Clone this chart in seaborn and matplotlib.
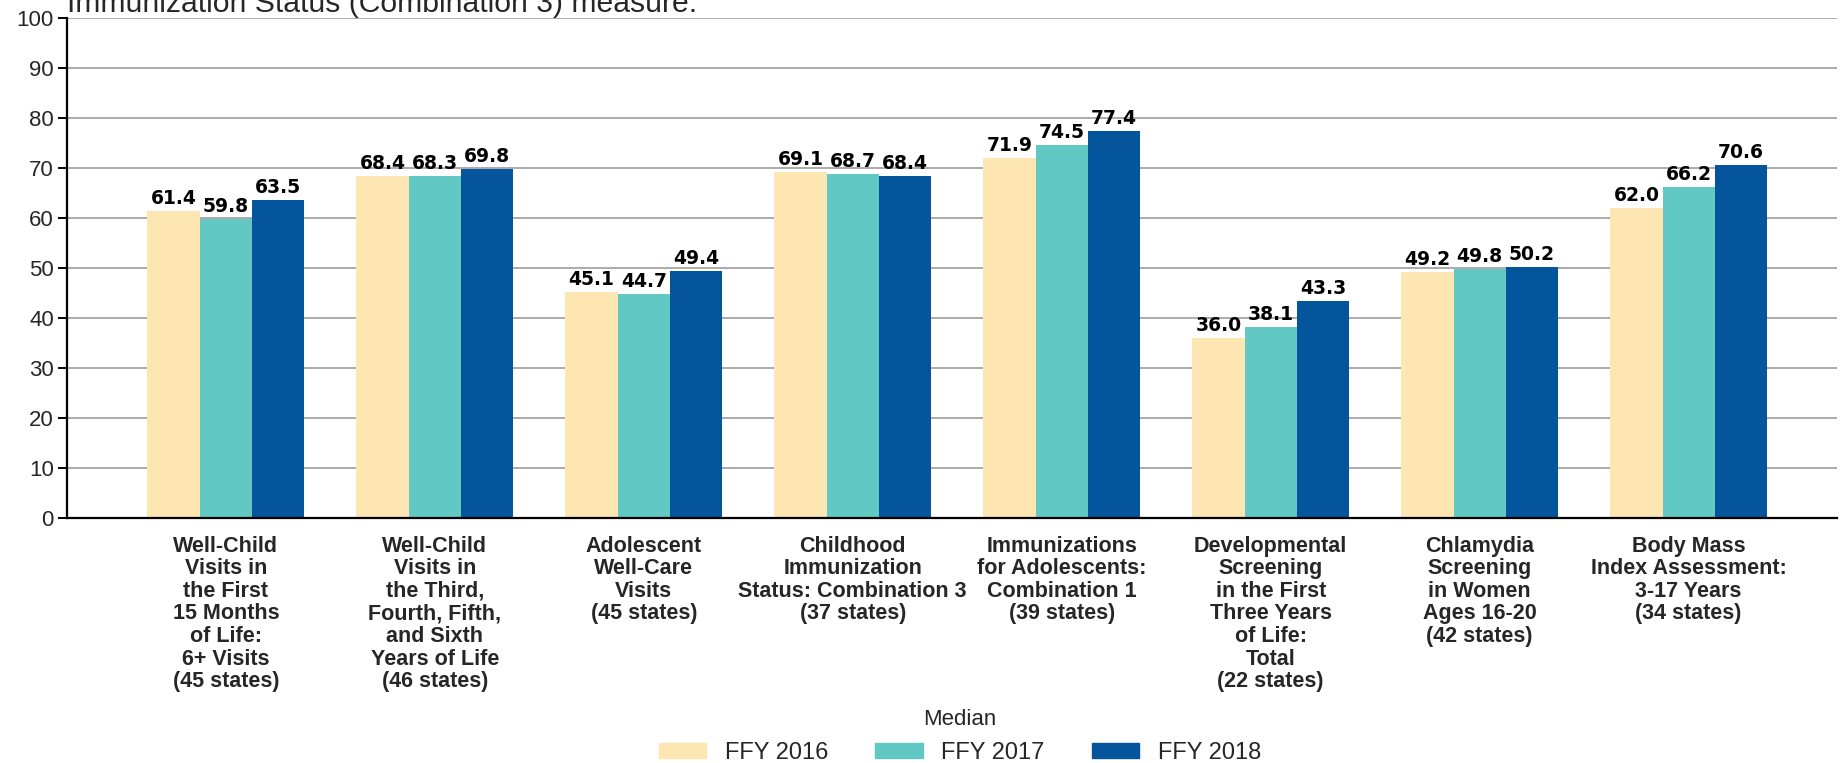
import matplotlib
matplotlib.use("Agg")
import matplotlib.pyplot as plt
import seaborn as sns
import pandas as pd

# Measures and state counts shown under each group
categories = [
    "Well-Child\nVisits in\nthe First\n15 Months\nof Life:\n6+ Visits\n(45 states)",
    "Well-Child\nVisits in\nthe Third,\nFourth, Fifth,\nand Sixth\nYears of Life\n(46 states)",
    "Adolescent\nWell-Care\nVisits\n(45 states)",
    "Childhood\nImmunization\nStatus: Combination 3\n(37 states)",
    "Immunizations\nfor Adolescents:\nCombination 1\n(39 states)",
    "Developmental\nScreening\nin the First\nThree Years\nof Life:\nTotal\n(22 states)",
    "Chlamydia\nScreening\nin Women\nAges 16-20\n(42 states)",
    "Body Mass\nIndex Assessment:\n3-17 Years\n(34 states)",
]
years = ["FFY 2016", "FFY 2017", "FFY 2018"]
median_2016 = [61.4, 68.4, 45.1, 69.1, 71.9, 36.0, 49.2, 62.0]
median_2017 = [59.8, 68.3, 44.7, 68.7, 74.5, 38.1, 49.8, 66.2]
median_2018 = [63.5, 69.8, 49.4, 68.4, 77.4, 43.3, 50.2, 70.6]
yticks = list(range(0, 101, 10))

colors = ["#FDE6B1", "#62C8C4", "#04559C"]

rows = []
for year, vals in zip(years, [median_2016, median_2017, median_2018]):
    for cat, v in zip(categories, vals):
        rows.append({"measure": cat, "year": year, "median": v})
df = pd.DataFrame(rows)

sns.set_style("white")
plt.rcParams["font.family"] = ["Liberation Sans", "DejaVu Sans"]

fig = plt.figure(figsize=(18.44, 7.63), dpi=100)
ax = fig.add_axes([67 / 1844, 1 - 517.5 / 763, (1837 - 67) / 1844, 500 / 763])

sns.barplot(data=df, x="measure", y="median", hue="year", order=categories,
            hue_order=years, palette=colors, width=0.75, gap=0,
            saturation=1, edgecolor="none", linewidth=0, errorbar=None, ax=ax)

for cont in ax.containers:
    ax.bar_label(cont, fmt="%.1f", padding=2, fontsize=13.5,
                 fontweight="bold", family="DejaVu Sans", color="black")

ax.set_ylim(0, 100)
ax.set_xlim(-0.76, 7.71)
ax.set_yticks(yticks)
ax.yaxis.grid(True, color="#ABABAB", linewidth=1.4)
ax.xaxis.grid(False)
ax.set_axisbelow(True)
ax.set_xlabel("")
ax.set_ylabel("")

for side in ["top", "right"]:
    ax.spines[side].set_visible(False)
for side in ["left", "bottom"]:
    ax.spines[side].set_color("black")
    ax.spines[side].set_linewidth(1.6)

ax.tick_params(axis="y", direction="out", length=6.5, width=1.4,
               color="black", labelsize=16, pad=3, left=True)
ax.tick_params(axis="x", length=0, pad=13)
ax.set_xticks(range(len(categories)))
ax.set_xticklabels(categories, fontsize=15.5, fontweight="bold",
                   linespacing=1.1, va="top", ha="center")

ax.legend_.remove()
handles = [plt.Rectangle((0, 0), 1, 1, color=c) for c in colors]
fig.legend(handles, years, title="Median", loc="lower center", ncol=3,
           bbox_to_anchor=(960 / 1844, -15 / 763), frameon=False, fontsize=17,
           title_fontsize=16, handlelength=2.0, handleheight=0.65,
           handletextpad=0.8, columnspacing=2.0, borderpad=0.1)

fig.text(67 / 1844, 1 - 12 / 763, "Immunization Status (Combination 3) measure.",
         fontsize=21.7, va="baseline", ha="left")

fig.savefig("out.png", dpi=100)
